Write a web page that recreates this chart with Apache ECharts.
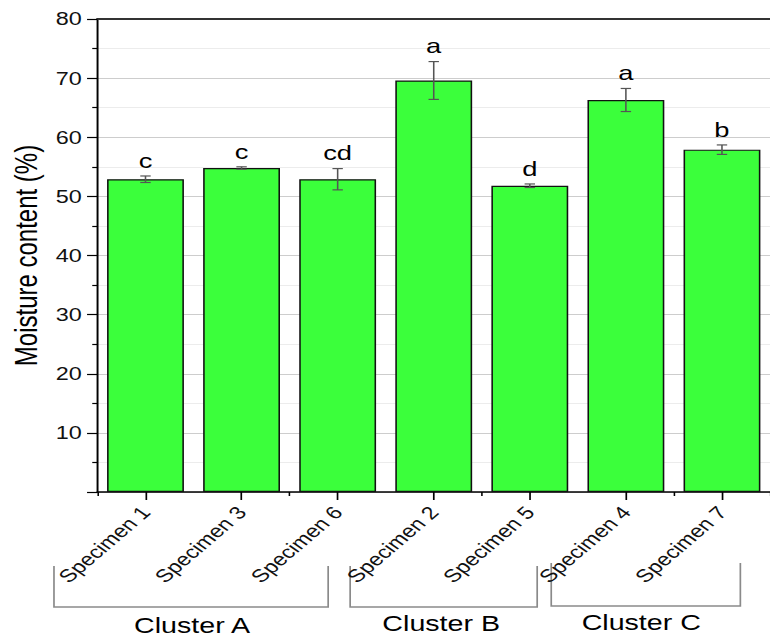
<!DOCTYPE html>
<html>
<head>
<meta charset="utf-8">
<script src="https://cdn.jsdelivr.net/npm/echarts@6/dist/echarts.min.js"></script>
<style>
  html, body { margin: 0; padding: 0; background: #fff; overflow: hidden; }
  #wrap { width: 770px; height: 637px; overflow: hidden; }
  /* the figure is laid out on a narrower canvas and widened horizontally */
  #chart { width: 592px; height: 637px; transform: scaleX(1.3007); transform-origin: 0 0; }
</style>
</head>
<body>
<div id="wrap"><div id="chart"></div></div>
<script>
// Moisture content per specimen (mean and standard deviation), with group letters
const specimens = ['Specimen 1', 'Specimen 3', 'Specimen 6', 'Specimen 2', 'Specimen 5', 'Specimen 4', 'Specimen 7'];
const moisture = [52.9, 54.8, 52.9, 69.6, 51.8, 66.3, 57.9];
const moistureSd = [0.55, 0.2, 1.8, 3.2, 0.3, 1.95, 0.8];
const groupLetters = ['c', 'c', 'cd', 'a', 'd', 'a', 'b'];
const clusterNames = ['Cluster A', 'Cluster B', 'Cluster C'];
const yTickValues = [10, 20, 30, 40, 50, 60, 70, 80];

const FONT = '"Liberation Sans", Arial, sans-serif';

const chart = echarts.init(document.getElementById('chart'), null, { renderer: 'svg' });

const errorData = moisture.map((m, i) => [i, m, moistureSd[i], groupLetters[i]]);

// bracket geometry under the category labels (canvas pixels)
const clusterBoxes = [
  { l: 41.5, r: 252.3, top: 566, bottom: 607, labelX: 147.7, labelY: 625 },
  { l: 269.2, r: 413.0, top: 566, bottom: 607, labelX: 339.2, labelY: 623 },
  { l: 423.8, r: 569.2, top: 563, bottom: 606, labelX: 493.0, labelY: 622 }
];

const graphics = [];
clusterBoxes.forEach((b, i) => {
  graphics.push({
    type: 'polyline',
    shape: { points: [[b.l, b.top], [b.l, b.bottom], [b.r, b.bottom], [b.r, b.top]] },
    style: { stroke: '#8a8a8a', lineWidth: 1.3, fill: null },
    silent: true
  });
  graphics.push({
    type: 'text',
    x: b.labelX, y: b.labelY,
    style: { text: clusterNames[i], align: 'center', verticalAlign: 'middle', fontSize: 22, fontFamily: FONT, fill: '#000' },
    silent: true
  });
});

chart.setOption({
  animation: false,
  backgroundColor: '#fff',
  grid: { left: 70.8, right: -8, top: 19, bottom: 145, containLabel: false },
  xAxis: [
    {
      type: 'category',
      data: specimens,
      position: 'bottom',
      axisLine: { show: true, lineStyle: { color: '#000', width: 1.5 } },
      axisTick: { show: true, alignWithLabel: true, length: 8, lineStyle: { color: '#000', width: 1.3 } },
      axisLabel: { interval: 0, rotate: 48, fontSize: 18, fontFamily: FONT, color: '#111', margin: 17 },
      splitLine: { show: false }
    },
    {
      type: 'category',
      data: specimens,
      position: 'bottom',
      axisLine: { show: false },
      axisTick: { show: true, alignWithLabel: false, length: 4, lineStyle: { color: '#000', width: 1.2 } },
      axisLabel: { show: false },
      splitLine: { show: false }
    },
    {
      type: 'category',
      data: specimens,
      position: 'top',
      axisLine: { show: true, lineStyle: { color: '#333', width: 2.2 } },
      axisTick: { show: false },
      axisLabel: { show: false },
      splitLine: { show: false }
    }
  ],
  yAxis: {
    type: 'value',
    min: 0,
    max: 80,
    interval: 10,
    name: 'Moisture content (%)',
    nameLocation: 'middle',
    nameGap: 42,
    nameTextStyle: { fontSize: 24, fontFamily: FONT, color: '#000' },
    axisLine: { show: true, lineStyle: { color: '#000', width: 1.5 } },
    axisTick: { show: true, inside: false, length: 8, lineStyle: { color: '#000', width: 1.2 } },
    minorTick: { show: true, splitNumber: 2, length: 4, lineStyle: { color: '#000', width: 1.2 } },
    axisLabel: {
      fontSize: 18, fontFamily: FONT, color: '#111', margin: 12,
      formatter: v => (yTickValues.indexOf(v) >= 0 ? String(v) : '')
    },
    splitLine: { show: true, lineStyle: { color: '#cdcdcd', width: 1 } },
    minorSplitLine: { show: true, lineStyle: { color: '#ececec', width: 1 } }
  },
  series: [
    {
      type: 'bar',
      xAxisIndex: 0,
      data: moisture,
      barCategoryGap: '20%',
      itemStyle: { color: '#3bff3b', borderColor: '#111', borderWidth: 1.2 },
      z: 2
    },
    {
      type: 'custom',
      xAxisIndex: 0,
      data: errorData,
      encode: { x: 0, y: 1 },
      z: 5,
      renderItem: function (params, api) {
        const idx = api.value(0);
        const mean = api.value(1);
        const sd = api.value(2);
        const letter = groupLetters[params.dataIndex];
        const hi = api.coord([idx, mean + sd]);
        const lo = api.coord([idx, mean - sd]);
        const cap = 4;
        const lineStyle = { stroke: '#555', lineWidth: 1.2 };
        return {
          type: 'group',
          children: [
            { type: 'line', shape: { x1: hi[0], y1: hi[1], x2: lo[0], y2: lo[1] }, style: lineStyle },
            { type: 'line', shape: { x1: hi[0] - cap, y1: hi[1], x2: hi[0] + cap, y2: hi[1] }, style: lineStyle },
            { type: 'line', shape: { x1: lo[0] - cap, y1: lo[1], x2: lo[0] + cap, y2: lo[1] }, style: lineStyle },
            {
              type: 'text',
              style: {
                text: letter, x: hi[0], y: hi[1] - 5,
                align: 'center', verticalAlign: 'bottom',
                fontSize: 21, fontFamily: FONT, fill: '#000'
              }
            }
          ]
        };
      }
    }
  ],
  graphic: graphics
});
</script>
</body>
</html>
